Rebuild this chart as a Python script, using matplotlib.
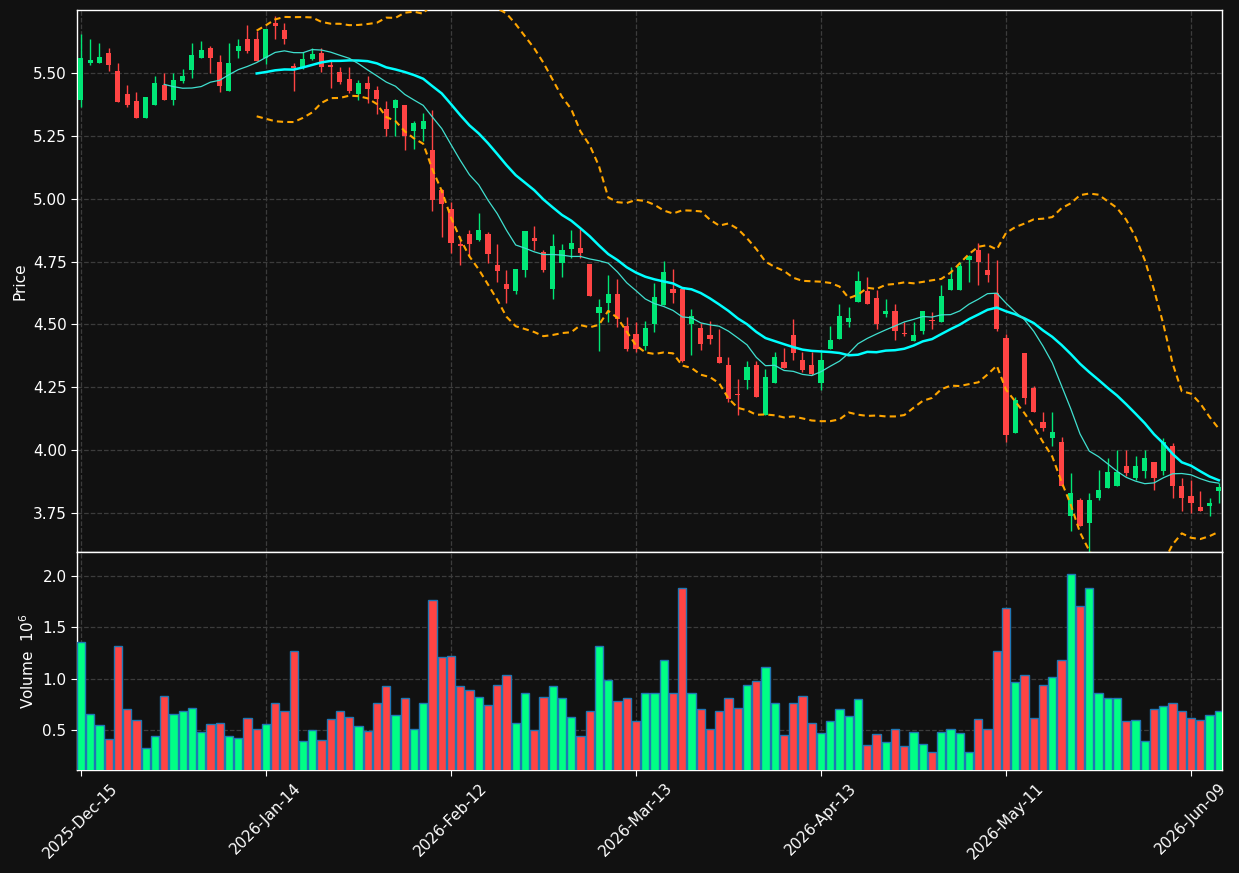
import numpy as np
import pandas as pd
import matplotlib
matplotlib.use("Agg")
import matplotlib.pyplot as plt

# daily OHLC (price), one entry per trading day
opens = [
    5.394, 5.541, 5.541, 5.580, 5.508, 5.416, 5.389, 5.322, 5.374, 5.452,
    5.394, 5.470, 5.512, 5.561, 5.599, 5.544, 5.430, 5.589, 5.634, 5.634,
    5.562, 5.698, 5.670, 5.530, 5.525, 5.558, 5.581, 5.534, 5.505, 5.477,
    5.415, 5.461, 5.433, 5.356, 5.362, 5.372, 5.269, 5.277, 5.194, 5.036,
    4.960, 4.820, 4.861, 4.837, 4.861, 4.738, 4.663, 4.634, 4.717, 4.843,
    4.788, 4.642, 4.745, 4.800, 4.803, 4.739, 4.546, 4.586, 4.623, 4.493,
    4.464, 4.414, 4.503, 4.578, 4.640, 4.640, 4.503, 4.485, 4.458, 4.370,
    4.339, 4.223, 4.280, 4.339, 4.138, 4.268, 4.350, 4.458, 4.358, 4.339,
    4.268, 4.403, 4.443, 4.511, 4.590, 4.632, 4.605, 4.542, 4.553, 4.466,
    4.435, 4.475, 4.515, 4.510, 4.637, 4.637, 4.755, 4.798, 4.718, 4.624,
    4.445, 4.069, 4.386, 4.249, 4.112, 4.049, 4.032, 3.737, 3.800, 3.709,
    3.809, 3.849, 3.857, 3.938, 3.889, 3.917, 3.952, 3.917, 4.018, 3.859,
    3.819, 3.772, 3.777, 3.837,
]
highs = [
    5.654, 5.634, 5.618, 5.598, 5.542, 5.451, 5.423, 5.405, 5.487, 5.499,
    5.499, 5.515, 5.618, 5.626, 5.607, 5.570, 5.618, 5.634, 5.690, 5.666,
    5.675, 5.727, 5.698, 5.540, 5.585, 5.598, 5.598, 5.547, 5.524, 5.524,
    5.473, 5.487, 5.449, 5.390, 5.395, 5.372, 5.308, 5.343, 5.352, 5.038,
    4.988, 4.853, 4.876, 4.943, 4.866, 4.820, 4.718, 4.720, 4.870, 4.890,
    4.795, 4.861, 4.821, 4.877, 4.880, 4.740, 4.603, 4.698, 4.679, 4.528,
    4.511, 4.513, 4.667, 4.753, 4.722, 4.645, 4.560, 4.505, 4.512, 4.484,
    4.369, 4.282, 4.356, 4.356, 4.321, 4.389, 4.405, 4.520, 4.389, 4.389,
    4.389, 4.492, 4.583, 4.570, 4.712, 4.690, 4.636, 4.603, 4.583, 4.511,
    4.511, 4.553, 4.550, 4.659, 4.729, 4.749, 4.775, 4.825, 4.786, 4.758,
    4.464, 4.212, 4.386, 4.257, 4.150, 4.150, 4.051, 3.910, 3.811, 3.831,
    3.920, 3.970, 4.000, 4.000, 3.977, 4.000, 3.952, 4.050, 4.030, 3.890,
    3.882, 3.837, 3.811, 3.870,
]
lows = [
    5.367, 5.534, 5.541, 5.507, 5.386, 5.366, 5.322, 5.322, 5.374, 5.394,
    5.375, 5.459, 5.479, 5.561, 5.499, 5.423, 5.430, 5.562, 5.578, 5.549,
    5.536, 5.634, 5.614, 5.430, 5.515, 5.554, 5.503, 5.440, 5.457, 5.419,
    5.391, 5.382, 5.336, 5.250, 5.250, 5.194, 5.200, 5.231, 4.951, 4.847,
    4.784, 4.735, 4.771, 4.831, 4.743, 4.668, 4.586, 4.623, 4.689, 4.795,
    4.709, 4.603, 4.689, 4.766, 4.766, 4.612, 4.395, 4.511, 4.491, 4.395,
    4.389, 4.398, 4.472, 4.578, 4.587, 4.352, 4.377, 4.397, 4.423, 4.348,
    4.193, 4.139, 4.242, 4.213, 4.138, 4.268, 4.328, 4.357, 4.310, 4.298,
    4.239, 4.403, 4.443, 4.491, 4.590, 4.582, 4.483, 4.530, 4.437, 4.456,
    4.435, 4.464, 4.483, 4.510, 4.637, 4.637, 4.669, 4.657, 4.669, 4.475,
    4.033, 4.069, 4.182, 4.150, 4.076, 4.018, 3.858, 3.677, 3.697, 3.590,
    3.800, 3.849, 3.857, 3.896, 3.880, 3.890, 3.840, 3.900, 3.811, 3.757,
    3.749, 3.757, 3.740, 3.789,
]
closes = [
    5.562, 5.552, 5.564, 5.533, 5.386, 5.374, 5.322, 5.405, 5.460, 5.394,
    5.472, 5.488, 5.572, 5.591, 5.561, 5.450, 5.542, 5.606, 5.589, 5.549,
    5.675, 5.688, 5.634, 5.520, 5.558, 5.574, 5.523, 5.523, 5.464, 5.430,
    5.461, 5.438, 5.397, 5.276, 5.392, 5.249, 5.300, 5.309, 4.996, 4.978,
    4.825, 4.811, 4.819, 4.877, 4.782, 4.714, 4.640, 4.720, 4.870, 4.832,
    4.717, 4.813, 4.795, 4.823, 4.783, 4.614, 4.569, 4.623, 4.520, 4.403,
    4.403, 4.485, 4.608, 4.708, 4.626, 4.356, 4.532, 4.423, 4.442, 4.348,
    4.205, 4.220, 4.331, 4.213, 4.291, 4.370, 4.328, 4.388, 4.320, 4.303,
    4.358, 4.438, 4.533, 4.524, 4.672, 4.582, 4.503, 4.553, 4.475, 4.463,
    4.458, 4.553, 4.512, 4.612, 4.680, 4.731, 4.771, 4.749, 4.697, 4.482,
    4.061, 4.199, 4.208, 4.150, 4.089, 4.071, 3.858, 3.831, 3.697, 3.800,
    3.840, 3.912, 3.912, 3.909, 3.938, 3.970, 3.890, 4.033, 3.857, 3.811,
    3.789, 3.757, 3.791, 3.852,
]
# volume in millions
volumes = [
    1.36, 0.657, 0.546, 0.41, 1.32, 0.70, 0.60, 0.32, 0.44, 0.83,
    0.657, 0.686, 0.716, 0.48, 0.56, 0.57, 0.44, 0.42, 0.62, 0.51,
    0.56, 0.765, 0.68, 1.27, 0.39, 0.50, 0.40, 0.61, 0.68, 0.63,
    0.54, 0.49, 0.765, 0.93, 0.647, 0.81, 0.51, 0.765, 1.765, 1.21,
    1.225, 0.93, 0.89, 0.82, 0.745, 0.94, 1.04, 0.57, 0.86, 0.50,
    0.82, 0.93, 0.81, 0.63, 0.44, 0.686, 1.32, 0.99, 0.78, 0.81,
    0.59, 0.86, 0.86, 1.18, 0.86, 1.88, 0.86, 0.70, 0.51, 0.68,
    0.81, 0.716, 0.94, 0.98, 1.11, 0.765, 0.45, 0.765, 0.83, 0.57,
    0.47, 0.59, 0.70, 0.64, 0.80, 0.35, 0.46, 0.38, 0.51, 0.34,
    0.48, 0.36, 0.29, 0.48, 0.51, 0.47, 0.29, 0.61, 0.51, 1.265,
    1.69, 0.97, 1.04, 0.62, 0.94, 1.02, 1.18, 2.02, 1.71, 1.88,
    0.86, 0.81, 0.81, 0.59, 0.60, 0.39, 0.70, 0.735, 0.765, 0.68,
    0.62, 0.60, 0.647, 0.68,
]
tick_labels = [
    "2025-Dec-15", "2026-Jan-14", "2026-Feb-12", "2026-Mar-13",
    "2026-Apr-13", "2026-May-11", "2026-Jun-09",
]

df = pd.DataFrame({
    "open": opens, "high": highs, "low": lows,
    "close": closes, "volume": volumes,
})
df["ma10"] = df["close"].rolling(10).mean()
df["ma20"] = df["close"].rolling(20).mean()
std20 = df["close"].rolling(20).std()
df["upper"] = df["ma20"] + 2 * std20
df["lower"] = df["ma20"] - 2 * std20

x = np.arange(len(df))
up = df["close"] >= df["open"]

bg = "#111111"
fg = "white"
grid_kw = dict(color="#3c3c3c", linestyle="--", linewidth=0.9)

fig = plt.figure(figsize=(12.39, 8.73), dpi=100, facecolor=bg)
gs = fig.add_gridspec(2, 1, height_ratios=[542, 218], hspace=0,
                      left=0.0621, right=0.9863, top=0.98855, bottom=0.118)
ax = fig.add_subplot(gs[0])
axv = fig.add_subplot(gs[1], sharex=ax)

candle_colors = np.where(up, "#00e676", "#ff4444")

# wicks and bodies
ax.vlines(x, df["low"], df["high"], colors=candle_colors, linewidth=1, zorder=2)
body_bottom = np.minimum(df["open"], df["close"])
body_height = np.maximum((df["close"] - df["open"]).abs(), 0.004)
ax.bar(x, body_height, bottom=body_bottom, width=0.55,
       color=candle_colors, linewidth=0, zorder=3)

ax.plot(x, df["ma20"], color="#00ffff", linewidth=1.8, zorder=4)
ax.plot(x, df["ma10"], color="#40e0d0", linewidth=0.9, zorder=4)
ax.plot(x, df["upper"], color="#ffa500", linewidth=1.5,
        linestyle=(0, (3, 2)), zorder=4)
ax.plot(x, df["lower"], color="#ffa500", linewidth=1.5,
        linestyle=(0, (3, 2)), zorder=4)

ax.set_ylim(3.595, 5.751)
ax.set_yticks([3.75, 4.00, 4.25, 4.50, 4.75, 5.00, 5.25, 5.50])
ax.set_yticklabels([f"{v:.2f}" for v in ax.get_yticks()])
ax.set_ylabel("Price", color=fg, fontsize=11)

vol_colors = np.where(up, "#00ff85", "#ff4444")
axv.bar(x, df["volume"], width=0.9, color=vol_colors,
        edgecolor="#1f77b4", linewidth=1, zorder=3)
axv.set_ylim(0.11, 2.234)
axv.set_yticks([0.5, 1.0, 1.5, 2.0])
axv.set_yticklabels(["0.5", "1.0", "1.5", "2.0"])
axv.set_ylabel("Volume  $10^6$", color=fg, fontsize=11)

axv.set_xlim(-0.43, 123.35)
axv.set_xticks(np.arange(0, len(df), 20))
axv.set_xticklabels(tick_labels, rotation=45, ha="center")
plt.setp(ax.get_xticklabels(), visible=False)

for a in (ax, axv):
    a.set_facecolor(bg)
    a.grid(True, **grid_kw)
    a.set_axisbelow(True)
    a.tick_params(colors=fg, labelsize=11, length=4)
    for s in a.spines.values():
        s.set_color(fg)
        s.set_linewidth(1)
ax.tick_params(axis="x", length=0)

fig.savefig("out.png", dpi=100, facecolor=bg)
